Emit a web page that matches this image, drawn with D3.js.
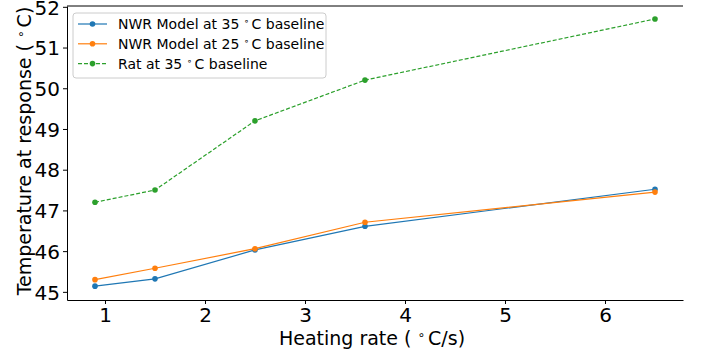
<!DOCTYPE html>
<html>
<head>
<meta charset="utf-8">
<script src="https://cdn.jsdelivr.net/npm/d3@7"></script>
<style>
  body { margin: 0; background: #fff; }
  text { font-family: "DejaVu Sans", sans-serif; fill: #000; }
</style>
</head>
<body>
<div id="chart"></div>
<script>
// Data
const heatingRates = [0.9, 1.5, 2.5, 3.6, 6.5];
const nwr35 = [45.14, 45.32, 46.03, 46.61, 47.52];
const nwr25 = [45.3, 45.58, 46.06, 46.71, 47.45];
const rat35 = [47.2, 47.5, 49.2, 50.2, 51.7];
const xTicks = [1, 2, 3, 4, 5, 6];
const yTicks = [45, 46, 47, 48, 49, 50, 51, 52];

const series = [
    { name: "NWR Model at 35", values: nwr35, color: "#1f77b4", dash: null },
    { name: "NWR Model at 25", values: nwr25, color: "#ff7f0e", dash: null },
    { name: "Rat at 35", values: rat35, color: "#2ca02c", dash: "4,2" }
];

const W = 704, H = 351;
const margin = { top: 6, right: 21, bottom: 51, left: 67 };
const width = W - margin.left - margin.right;
const height = H - margin.top - margin.bottom;

const svg = d3.select("#chart")
    .append("svg")
    .attr("width", W)
    .attr("height", H)
    .append("g")
    .attr("transform", "translate(" + margin.left + "," + margin.top + ")");

const x = d3.scaleLinear().domain([0.62, 6.78]).range([0, width]);
const y = d3.scaleLinear().domain([44.8, 52.02]).range([height, 0]);

// Axes
const xAxis = svg.append("g")
    .attr("transform", "translate(0," + height + ")")
    .call(d3.axisBottom(x).tickValues(xTicks).tickFormat(d3.format("d")).tickSize(4).tickPadding(4).tickSizeOuter(0));
const yAxis = svg.append("g")
    .call(d3.axisLeft(y).tickValues(yTicks).tickFormat(d3.format("d")).tickSize(4).tickPadding(3).tickSizeOuter(0));

[xAxis, yAxis].forEach(a => {
    a.selectAll("text").style("font-size", "20px").style("font-family", "DejaVu Sans").attr("fill", "#000");
    a.selectAll("line").attr("stroke", "#000").attr("stroke-width", 1);
    a.select(".domain").attr("stroke", "#000").attr("stroke-width", 1);
});
yAxis.selectAll("text").attr("dy", "0.36em");

// top spine
svg.append("line")
    .attr("x1", 0).attr("x2", width)
    .attr("y1", 0).attr("y2", 0)
    .attr("stroke", "#000").attr("stroke-width", 1);

// Lines
const line = d3.line()
    .x((d, i) => x(heatingRates[i]))
    .y(d => y(d));

series.forEach(s => {
    svg.append("path")
        .datum(s.values)
        .attr("fill", "none")
        .attr("stroke", s.color)
        .attr("stroke-width", 1.2)
        .attr("stroke-dasharray", s.dash)
        .attr("d", line);
    svg.selectAll(null)
        .data(s.values)
        .enter()
        .append("circle")
        .attr("cx", (d, i) => x(heatingRates[i]))
        .attr("cy", d => y(d))
        .attr("r", 2.8)
        .attr("fill", s.color);
});

// helper for "N ∘ C" style text (matplotlib mathtext look)
function degText(sel, before, after) {
    sel.append("tspan").text(before);
    sel.append("tspan").attr("font-size", "0.65em").attr("dy", "-0.5em").text("∘");
    sel.append("tspan").attr("dy", "0.325em").attr("dx", "0.15em").text(after);
}

// Axis labels
const xl = svg.append("text")
    .attr("x", width / 2 - 3)
    .attr("y", height + 45)
    .attr("text-anchor", "middle")
    .style("font-size", "19px");
degText(xl, "Heating rate ( ", "C/s)");

const yl = svg.append("text")
    .attr("transform", "rotate(-90)")
    .attr("x", -height / 2 + 2)
    .attr("y", -margin.left + 31)
    .attr("text-anchor", "middle")
    .style("font-size", "19px");
degText(yl, "Temperature at response ( ", "C)");

// Legend
const legend = svg.append("g").attr("transform", "translate(6,7)");
legend.append("rect")
    .attr("width", 253).attr("height", 65)
    .attr("rx", 3)
    .attr("fill", "#fff").attr("fill-opacity", 0.8)
    .attr("stroke", "#ccc");
series.forEach((s, i) => {
    const g = legend.append("g").attr("transform", "translate(0," + (11 + i * 19.8) + ")");
    g.append("line")
        .attr("x1", 5).attr("x2", 34)
        .attr("stroke", s.color).attr("stroke-width", 1.2)
        .attr("stroke-dasharray", s.dash);
    g.append("circle").attr("cx", 19.5).attr("r", 2.8).attr("fill", s.color);
    const t = g.append("text")
        .attr("x", 45).attr("dy", "0.35em")
        .style("font-size", "14px");
    degText(t, s.name + " ", "C baseline");
});
</script>
</body>
</html>
